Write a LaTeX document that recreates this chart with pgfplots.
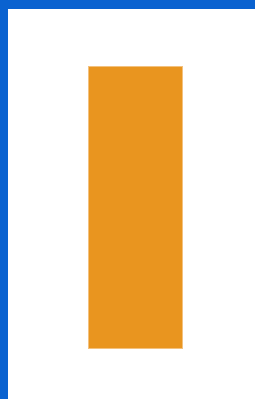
\documentclass[border=0pt]{standalone}
\usepackage{pgfplots}
\pgfplotsset{compat=1.18}
\definecolor{bgblue}{HTML}{0A62D0}
\definecolor{barorange}{HTML}{E9951F}
\definecolor{baredge}{HTML}{F3C17E}
\begin{document}
\begin{tikzpicture}
\begin{axis}[
  hide axis,
  scale only axis,
  width=255pt, height=399pt,
  xmin=0, xmax=255, ymin=0, ymax=399,
  clip=true,
]
% blue frame (top and left bands)
\addplot[fill=bgblue, draw=none] coordinates {(0,0) (255,0) (255,399) (0,399)} -- cycle;
\addplot[fill=white, draw=none] coordinates {(8,0) (255,0) (255,390) (8,390)} -- cycle;
% the single bar
\addplot[fill=barorange, draw=baredge, line width=1pt] coordinates {(88,50) (182,50) (182,332) (88,332)} -- cycle;
\end{axis}
\end{tikzpicture}
\end{document}
